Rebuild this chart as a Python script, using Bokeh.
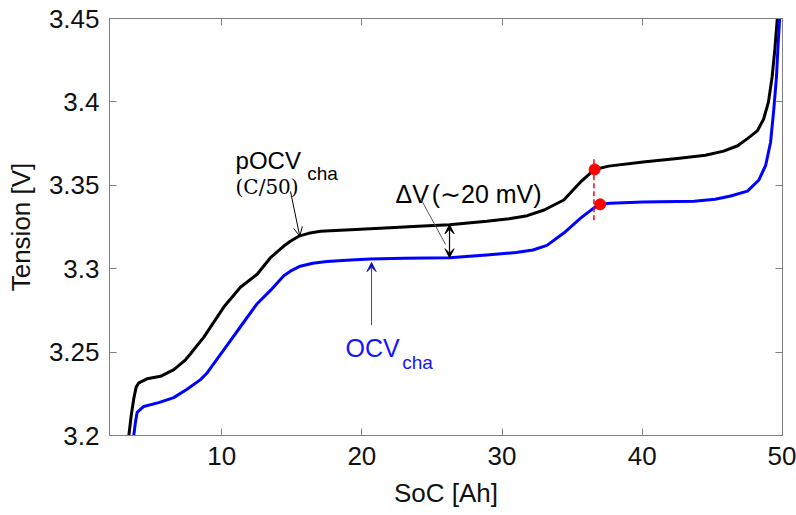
from bokeh.plotting import figure
from bokeh.models import (Range1d, LinearAxis, FixedTicker, Label, Arrow, OpenHead,
                          VeeHead)
from bokeh.embed import file_html
from bokeh.resources import INLINE

# ---------------- data ----------------
soc_pocv = [3.38, 3.55, 3.73, 3.9, 4.09, 4.68, 5.64, 6.59, 7.42, 7.78, 8.73, 10.15, 11.34,
            12.53, 13.48, 14.43, 14.9, 15.5, 16.2, 17.05, 19.2, 22.0, 24.0, 26.25, 28.9,
            30.5, 31.8, 33.0, 34.4, 35.6, 36.6, 37.6, 40.06, 42.5, 44.5, 45.8, 46.8, 47.5,
            48.2, 48.65, 49.0, 49.26, 49.45, 49.6, 49.65]
v_pocv = [3.200, 3.212, 3.222, 3.229, 3.2316, 3.234, 3.2355, 3.2395, 3.2454, 3.249, 3.259,
          3.277, 3.2889, 3.2967, 3.3066, 3.3136, 3.3165, 3.3195, 3.3212, 3.3224, 3.3234,
          3.3245, 3.3255, 3.3264, 3.3284, 3.330, 3.3318, 3.3352, 3.3412, 3.352, 3.3595,
          3.3615, 3.364, 3.366, 3.368, 3.3705, 3.3737, 3.378, 3.3826, 3.3896, 3.400, 3.415,
          3.431, 3.447, 3.452]

soc_ocv = [3.73, 3.85, 3.97, 4.44, 5.51, 6.58, 7.53, 8.49, 8.96, 10.15, 11.34, 12.53, 13.48,
           14.43, 14.9, 15.6, 16.5, 17.5, 19.2, 20.6, 23.0, 26.25, 28.9, 31.0, 32.2, 33.2,
           34.4, 35.6, 36.55, 37.0, 37.7, 40.06, 43.7, 45.2, 46.3, 47.5, 48.3, 48.8, 49.15,
           49.38, 49.57, 49.69, 49.79, 49.82]
v_ocv = [3.200, 3.208, 3.2138, 3.2174, 3.2197, 3.2227, 3.2277, 3.2335, 3.2375, 3.2514,
         3.2652, 3.279, 3.287, 3.2958, 3.2985, 3.3015, 3.3033, 3.3043, 3.3052, 3.3058,
         3.3062, 3.3066, 3.3082, 3.3097, 3.3112, 3.314, 3.3214, 3.3303, 3.3365, 3.3386,
         3.3393, 3.340, 3.3404, 3.3416, 3.3436, 3.3465, 3.353, 3.362, 3.3758, 3.3955,
         3.415, 3.435, 3.4488, 3.452]

marker_soc = [36.6, 37.0]
marker_v = [3.3595, 3.3386]
cut_soc = [36.55, 36.55]
cut_v = [3.329, 3.367]

x_ticks = [10, 20, 30, 40, 50]
y_ticks = [3.2, 3.25, 3.3, 3.35, 3.4, 3.45]
y_tick_labels = ["3.2", "3.25", "3.3", "3.35", "3.4", "3.45"]

# ---------------- figure ----------------
FONT = "Liberation Sans"
AX_COL = "#808080"

p = figure(width=796, height=510, output_backend="svg", toolbar_location=None,
           x_range=Range1d(2, 50), y_range=Range1d(3.2, 3.45),
           min_border_left=109, min_border_right=14, min_border_top=18,
           min_border_bottom=70)
p.xgrid.visible = False
p.ygrid.visible = False
p.outline_line_color = AX_COL
p.background_fill_color = "white"
p.border_fill_color = "white"

def style_axis(ax, labels=True):
    ax.axis_line_color = AX_COL
    ax.major_tick_line_color = AX_COL
    ax.minor_tick_line_color = None
    ax.major_tick_in = 7
    ax.major_tick_out = 0
    if labels:
        ax.major_label_text_font = FONT
        ax.major_label_text_font_size = "26px"
        ax.major_label_text_color = "#111111"
        ax.axis_label_text_font = FONT
        ax.axis_label_text_font_size = "26px"
        ax.axis_label_text_font_style = "normal"
        ax.axis_label_text_color = "#111111"
    else:
        ax.major_label_overrides = {t: "" for t in ax.ticker.ticks}
        ax.major_label_standoff = 0
        ax.axis_label_standoff = 0

xa = p.xaxis[0]
ya = p.yaxis[0]
xa.ticker = FixedTicker(ticks=x_ticks)
ya.ticker = FixedTicker(ticks=y_ticks)
style_axis(xa)
style_axis(ya)
ya.major_label_overrides = dict(zip(y_ticks, y_tick_labels))
xa.axis_label = "SoC [Ah]"
ya.axis_label = "Tension [V]"
xa.major_label_standoff = 11
ya.major_label_standoff = 10
xa.axis_label_standoff = 10
ya.axis_label_standoff = 10

ra = LinearAxis(ticker=FixedTicker(ticks=y_ticks))
ta = LinearAxis(ticker=FixedTicker(ticks=x_ticks))
style_axis(ra, labels=False)
style_axis(ta, labels=False)
p.add_layout(ra, "right")
p.add_layout(ta, "above")

# ---------------- curves ----------------
p.line(soc_pocv, v_pocv, line_color="black", line_width=3, line_join="round")
p.line(soc_ocv, v_ocv, line_color="#0000ff", line_width=3, line_join="round")
p.line(cut_soc, cut_v, line_color="red", line_width=1.5, line_dash="5 3")
p.scatter(marker_soc, marker_v, size=11, color="red")

# ---------------- annotations ----------------
def lab(x, y, text, size, color="black", font=FONT):
    p.add_layout(Label(x=x, y=y, text=text, text_font=font, text_font_size=size,
                       text_color=color, text_baseline="alphabetic", text_align="left"))

lab(10.99, 3.3649, "pOCV", "24px")
lab(16.1, 3.3570, "cha", "19px")
lab(10.99, 3.3487, "(C/50)", "20px", font="DejaVu Serif")
p.add_layout(Arrow(x_start=14.91, y_start=3.3463, x_end=15.57, y_end=3.3195,
                   line_color="black", line_width=1,
                   end=OpenHead(size=9, line_color="black", line_width=1)))

lab(22.4, 3.3446, "ΔV", "25px")
lab(24.98, 3.3446, "(∼20 mV)", "25px")
p.add_layout(Arrow(x_start=24.18, y_start=3.3422, x_end=25.97, y_end=3.3145,
                   line_color="#555555", line_width=1, end=None))
p.add_layout(Arrow(x_start=26.25, y_start=3.3166, x_end=26.25, y_end=3.3264,
                   line_color="black", line_width=1.2,
                   end=VeeHead(size=9, fill_color="black", line_color="black")))
p.add_layout(Arrow(x_start=26.25, y_start=3.3166, x_end=26.25, y_end=3.3066,
                   line_color="black", line_width=1.2,
                   end=VeeHead(size=9, fill_color="black", line_color="black")))

p.add_layout(Arrow(x_start=20.69, y_start=3.2662, x_end=20.69, y_end=3.3037,
                   line_color="#3a3aff", line_width=1,
                   end=VeeHead(size=9, fill_color="#1010c0", line_color="#1010c0")))
lab(18.83, 3.2523, "OCV", "25px", color="#1414ff")
lab(22.88, 3.2438, "cha", "19px", color="#1414ff")

open("out.html", "w").write(file_html(p, INLINE))
